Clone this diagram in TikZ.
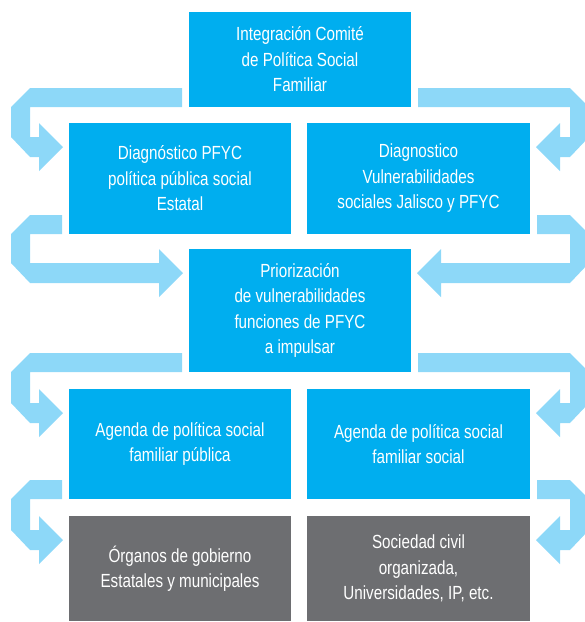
\documentclass[tikz,border=0pt]{standalone}
\usepackage{fontspec}
\setmainfont{Liberation Sans}[FakeStretch=0.8]
\usetikzlibrary{calc}
\definecolor{cian}{HTML}{00AEEF}
\definecolor{cianl}{HTML}{8DD8F8}
\definecolor{gris}{HTML}{6D6E71}
\tikzset{
  caja/.style={fill=cian,text=white,inner sep=0pt,outer sep=0pt,minimum width=222pt,
    align=center,font={\fontsize{19}{25.5}\selectfont}},
  cajagris/.style={caja,fill=gris},
  flecha/.style={fill=cianl},
}
% flecha en gancho: de la caja #1 a la caja #2, por la izquierda / derecha
\newcommand{\flechaizq}[2]{%
  \fill[flecha] let \p1=(#1.south west), \p2=(#2.north west) in
    (\x1-7pt,\y1+19pt) -- (30pt,\y1+19pt) -- (11pt,\y1) -- (11pt,\y2-14pt)
    -- (30pt,\y2-34pt) -- (\x2-30pt,\y2-34pt) -- (\x2-30pt,\y2-48pt)
    -- (\x2-6pt,\y2-24pt) -- (\x2-30pt,\y2) -- (\x2-30pt,\y2-14pt)
    -- (30pt,\y2-14pt) -- (30pt,\y1) -- (\x1-7pt,\y1) -- cycle;}
\newcommand{\flechader}[2]{%
  \fill[flecha] let \p1=(#1.south east), \p2=(#2.north east) in
    (\x1+7pt,\y1+19pt) -- (570pt,\y1+19pt) -- (589pt,\y1) -- (589pt,\y2-14pt)
    -- (570pt,\y2-34pt) -- (\x2+30pt,\y2-34pt) -- (\x2+30pt,\y2-48pt)
    -- (\x2+6pt,\y2-24pt) -- (\x2+30pt,\y2) -- (\x2+30pt,\y2-14pt)
    -- (570pt,\y2-14pt) -- (570pt,\y1) -- (\x1+7pt,\y1) -- cycle;}
\begin{document}
\begin{tikzpicture}[x=1pt,y=-1pt]
  \useasboundingbox (0,0) rectangle (585,622);
  \clip (0,0) rectangle (585,622);
  \node[caja,minimum height=95pt] (integ) at (300,59.5) {Integración Comité\\de Política Social\\Familiar};
  \node[caja,minimum height=111pt] (diagpfyc) at (180,178.5) {Diagnóstico PFYC\\política pública social\\Estatal};
  \node[caja,minimum height=111pt,minimum width=223pt] (diagvul) at (418.5,178.5) {Diagnostico\\Vulnerabilidades\\sociales Jalisco y PFYC};
  \node[caja,minimum height=123pt] (prior) at (300,310.5) {Priorización\\de vulnerabilidades\\funciones de PFYC\\a impulsar};
  \node[caja,minimum height=110pt] (agpub) at (180,444) {Agenda de política social\\familiar pública};
  \node[caja,minimum height=110pt,minimum width=223pt] (agsoc) at (418.5,444) {Agenda de política social\\familiar social};
  \node[cajagris,minimum height=105pt] (organos) at (180,568.5) {Órganos de gobierno\\Estatales y municipales};
  \node[cajagris,minimum height=105pt,minimum width=223pt] (sociedad) at (418.5,568.5) {Sociedad civil\\organizada,\\Universidades, IP, etc.};
  % ganchos
  \flechaizq{integ}{diagpfyc}
  \flechaizq{diagpfyc}{prior}
  \flechaizq{prior}{agpub}
  \flechaizq{agpub}{organos}
  \flechader{integ}{diagvul}
  \flechader{diagvul}{prior}
  \flechader{prior}{agsoc}
  \flechader{agsoc}{sociedad}
\end{tikzpicture}
\end{document}
